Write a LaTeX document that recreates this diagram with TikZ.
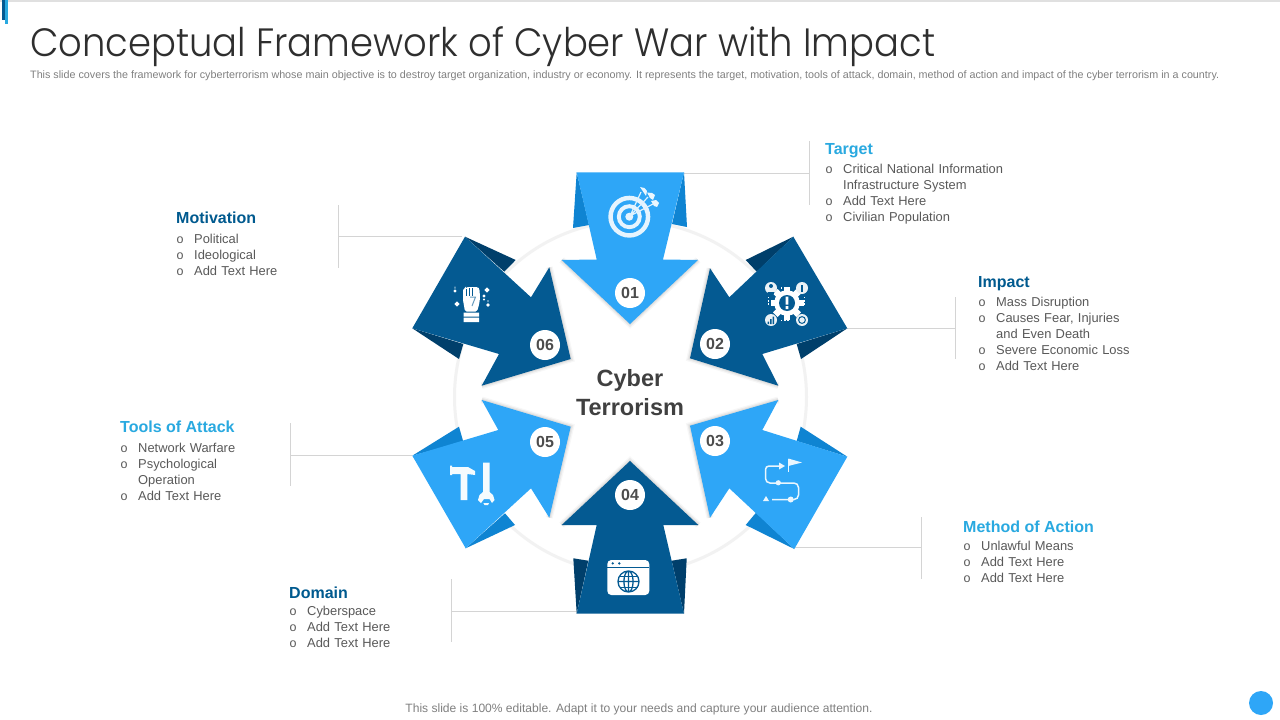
\documentclass[tikz,border=0pt]{standalone}
\usepackage{fontspec}
\setmainfont{Liberation Sans}
\newfontfamily\titlefont{Poppins Light}
\definecolor{lightb}{HTML}{2EA6F7}
\definecolor{darkb}{HTML}{045A92}
\definecolor{lightf}{HTML}{0F84D2}
\definecolor{darkf}{HTML}{003F6B}
\definecolor{headl}{HTML}{29A9E0}
\definecolor{headd}{HTML}{005A8F}
\definecolor{bodyc}{HTML}{595959}
\newcommand\bl[1]{\makebox[18pt][l]{\hspace{0.5pt}\fontsize{12.5}{16}\selectfont o}#1\par}
\newcommand\cn[1]{\hspace{18pt}#1\par}
\tikzset{
  x=1pt,y=-1pt,
  headtext/.style={anchor=west,inner sep=0pt,font=\fontsize{16}{16}\selectfont\bfseries},
  listtext/.style={anchor=north west,inner sep=0pt,text width=230pt,text=bodyc,font=\fontsize{12.9}{16}\selectfont,align=left},
  numdisc/.style={circle,fill=white,minimum size=30pt,inner sep=0pt,text=black!70,font=\fontsize{16}{16}\selectfont\bfseries},
  leader/.style={draw=black!17,line width=0.8pt},
  edgeglow/.style={draw=black,line join=miter,miter limit=20},
  iconw/.style={fill=white,draw=none},
}
\newcommand\glow[1]{%
  \draw[edgeglow,opacity=.03,line width=7pt] #1;
  \draw[edgeglow,opacity=.05,line width=4.5pt] #1;
  \draw[edgeglow,opacity=.06,line width=2pt] #1;
}
\begin{document}
\begin{tikzpicture}
\useasboundingbox (0,0) rectangle (1280,720);
\fill[white] (0,0) rectangle (1280,720);
% top rule and accent
\fill[black!12] (0,0) rectangle (1280,1.6);
\fill[darkb] (2,0) rectangle (5,20);
\fill[headl] (5,0) rectangle (8,24);
% title
\node[anchor=base west,inner sep=0pt,text=black!82,font=\fontsize{39.5}{40}\titlefont] (title) at (30,56) {\scalebox{.935}[1]{Conceptual Framework of Cyber War with Impact}};
\node[anchor=base west,inner sep=0pt,text=black!50,font=\fontsize{10.75}{10}\selectfont] (sub) at (30,78.5) {This slide covers the framework for cyberterrorism whose main objective is to destroy target organization, industry or economy. It represents the target, motivation, tools of attack, domain, method of action and impact of the cyber terrorism in a country.};
\node[anchor=base,inner sep=0pt,text=black!50,font=\fontsize{12.06}{12}\selectfont] (foot) at (639,712.5) {This slide is 100\% editable. Adapt it to your needs and capture your audience attention.};
\node[circle,fill=lightb,minimum size=24pt,inner sep=0pt] (dot) at (1261,703) {};
% ring
\draw[black!5,line width=3pt] (630.5,397) circle (176);
% anchor points of leaders
\coordinate (c1) at (684,173);
\coordinate (c2) at (847.3,328.3);
\coordinate (c3) at (794.3,547.5);
\coordinate (c4) at (576.7,611);
\coordinate (c5) at (412.3,455);
\coordinate (c6) at (462,236.5);
\coordinate (t1) at (809,173);
\coordinate (t1a) at (809,141);
\coordinate (t1b) at (809,205);
\coordinate (t2) at (955,328.3);
\coordinate (t2a) at (955,297);
\coordinate (t2b) at (955,359);
\coordinate (t3) at (921,547.5);
\coordinate (t3a) at (921,517);
\coordinate (t3b) at (921,579);
\coordinate (t4) at (451.5,611);
\coordinate (t4a) at (451.5,579);
\coordinate (t4b) at (451.5,642);
\coordinate (t5) at (290,455);
\coordinate (t5a) at (290,423);
\coordinate (t5b) at (290,486);
\coordinate (t6) at (338,236.5);
\coordinate (t6a) at (338,205);
\coordinate (t6b) at (338,268);
\foreach \i in {1,...,6}{
  \draw[leader] (c\i) -- (t\i);
  \draw[leader] (t\i a) -- (t\i b);
}
% folds
\fill[lightf] (576.7,172.3) -- (573,228) -- (589,225) -- cycle;
\fill[lightf] (684,172.3) -- (687,227) -- (672,224) -- cycle;
\fill[darkf] (793.3,236.7) -- (745.7,260) -- (756.7,271.7) -- cycle;
\fill[darkf] (847.3,328.3) -- (796.7,344) -- (801,359) -- cycle;
\fill[lightf] (847.3,456.7) -- (800.7,426.7) -- (796.7,441) -- cycle;
\fill[lightf] (794.3,549) -- (745.7,525) -- (756,512.7) -- cycle;
\fill[darkf] (576.7,613.7) -- (573.3,558.3) -- (588.3,560.7) -- cycle;
\fill[darkf] (684,613.7) -- (686.7,558.3) -- (671.7,560.7) -- cycle;
\fill[lightf] (412.3,455.7) -- (459,426.7) -- (463.3,441.7) -- cycle;
\fill[lightf] (465.7,548.3) -- (515,525) -- (505,513.3) -- cycle;
\fill[darkf] (465,236.7) -- (515.7,260) -- (504.3,271.7) -- cycle;
\fill[darkf] (412.3,328.3) -- (463.3,344) -- (459,359) -- cycle;
% edge shading towards the centre
\glow{(561.7,260) -- (630,324) -- (698,260)}
\glow{(710,268.3) -- (690,358.3) -- (778.3,385.7)}
\glow{(778.3,400) -- (690,425.7) -- (710,517.7)}
\glow{(561.7,525) -- (630,461) -- (698.3,525)}
\glow{(481.7,400) -- (570.7,426.7) -- (549.3,517.7)}
\glow{(549.3,267.3) -- (570.7,359) -- (481.7,385.7)}
% arrows
\fill[lightb] (576.7,172.3) -- (684,172.3) -- (663,259.5) -- (698,260) -- (630,324) -- (561.7,260) -- (596.7,259.5) -- cycle;
\fill[darkb] (793.3,236.7) -- (847.3,328.3) -- (762.3,354) -- (778.3,385.7) -- (690,358.3) -- (710,268.3) -- (729.3,297.3) -- cycle;
\fill[lightb] (847.3,456.7) -- (794.3,549) -- (729.3,488.3) -- (710,517.7) -- (690,425.7) -- (778.3,400) -- (762.3,430) -- cycle;
\fill[darkb] (576.7,613.7) -- (684,613.7) -- (663.3,525) -- (698.3,525) -- (630,461) -- (561.7,525) -- (596.7,525) -- cycle;
\fill[lightb] (412.3,455.7) -- (465.7,548.3) -- (531,488.3) -- (549.3,517.7) -- (570.7,426.7) -- (481.7,400) -- (498.3,430) -- cycle;
\fill[darkb] (465,236.7) -- (412.3,328.3) -- (499,354) -- (481.7,385.7) -- (570.7,359) -- (549.3,267.3) -- (531,297.3) -- cycle;
% number discs
\node[numdisc] (n1) at (630,293) {01};
\node[numdisc] (n2) at (715,344) {02};
\node[numdisc] (n3) at (715,441) {03};
\node[numdisc] (n4) at (630,495) {04};
\node[numdisc] (n5) at (545,442) {05};
\node[numdisc] (n6) at (545,345) {06};
% centre text
\node[inner sep=0pt,align=center,text=black!75,font=\fontsize{23.5}{29}\selectfont\bfseries] (centre) at (630,393) {Cyber\\Terrorism};
% icon 01 target
\begin{scope}[even odd rule]
\fill[white!88!lightb] (629.3,216.7) circle (21) (629.3,216.7) circle (16.5);
\fill[white!88!lightb] (629.3,216.7) circle (12.5) (629.3,216.7) circle (8.5);
\fill[white!88!lightb] (629.3,216.7) circle (4);
\end{scope}
\draw[white!85!lightb,line width=1.2pt] (630,216) -- (641,192) (630,216) -- (648,197) (630,216) -- (653,204);
\fill[white!90!lightb] (644,193) -- (640,187) -- (644.5,188) -- (647,191) -- (646,196) -- cycle;
\fill[white!90!lightb] (650,198) -- (647,192.5) -- (652,193) -- (655,195) -- (653,200) -- cycle;
\fill[white!90!lightb] (654,206) -- (651,201) -- (656,200) -- (659,203) -- (657,207) -- cycle;
% icon 02 gear
\foreach \a in {0,45,...,315}{
  \fill[white,rotate around={\a:(787,303)}] (783.8,286.5) rectangle (790.2,293);
}
\fill[white] (787,303) circle (12.8);
\fill[darkb] (787,303) circle (8);
\fill[white] (785.7,296.5) rectangle (788.3,304.5) (785.7,306) rectangle (788.3,309);
\foreach \p/\q in {771/288,802/288,771/320,802/320}{ \fill[white!92!darkb] (\p,\q) circle (6); }
\fill[darkb] (771,286) circle (2) (767.5,292) arc (180:0:3.5) -- cycle;
\fill[darkb] (801,284.5) rectangle (803,291.5);
\fill[darkb] (767.5,321.5) rectangle (769,324) (770,319) rectangle (771.5,324) (772.5,316.5) rectangle (774,324);
\draw[darkb,line width=1pt] (802,320) circle (3.4);
\foreach \s in {0,3.2,6.4}{
  \fill[white] (781+\s,287.4) rectangle (782.4+\s,288.8);
  \fill[white] (781+\s,320) rectangle (782.4+\s,321.4);
  \fill[white] (768,297+\s) rectangle (769.4,298.4+\s);
  \fill[white] (804,297+\s) rectangle (805.4,298.4+\s);
}
% icon 03 route
\draw[white!90!lightb,line width=1.5pt] (780,466) -- (769,466) arc (270:180:3.5) -- (765.5,478.5) arc (180:90:4.5) -- (794,483) arc (-90:0:4.5) -- (798.5,495) arc (0:90:4.5) -- (772,499.5);
\fill[white!90!lightb] (779,462.5) -- (785,466) -- (779,469.5) -- cycle;
\fill[white!90!lightb] (766,496) -- (769,501) -- (763,501) -- cycle;
\fill[white!90!lightb] (778.3,482.8) circle (2.6) (790.7,499.5) circle (3);
\draw[white!90!lightb,line width=1pt] (788.3,459) -- (788.3,472);
\fill[white!90!lightb] (788.3,458.5) -- (802,462.5) -- (796,464) -- (788.3,466) -- cycle;
% icon 04 browser
\fill[white,rounded corners=4pt] (607.3,560) rectangle (649.3,595);
\draw[darkb,line width=.5pt] (607.3,567) -- (649.3,567);
\fill[darkb] (612.7,563.4) circle (1.3) (619.3,563.4) circle (1.3);
\draw[darkb,line width=1.3pt] (628.5,581.5) circle (10.5) (628.5,581.5) ellipse (4.6 and 10.5) (618,581.5) -- (639,581.5) (628.5,571) -- (628.5,592);
\draw[darkb,line width=1pt] (619.5,576) -- (637.5,576) (619.5,587) -- (637.5,587);
% icon 05 tools
\fill[white!95!lightb] (450,465.5) -- (452,465.5) -- (452,467) -- (468,467) -- (475,471) -- (475,475) -- (467.3,474) -- (467.3,500) -- (460.7,500) -- (460.7,474) -- (452,474) -- (452,475) -- (450,475) -- cycle;
\fill[white!95!lightb] (483,462.5) -- (489.5,462.5) -- (489.5,492) -- (493,495) -- (494.5,500) -- (492,503) -- (489.5,499) -- (484,499) -- (481,503) -- (478,500) -- (479.5,495) -- (483,492) -- cycle;
\fill[white!95!lightb] (483.3,503) -- (489,503) -- (488,505) -- (484.5,505) -- cycle;
% icon 06 fist
\fill[white] (463.7,312.5) rectangle (479,316.5) (463.7,317.5) rectangle (479,322);
\fill[white,rounded corners=1.5pt] (465,311.5) -- (463,300) -- (463,292) -- (463.5,288) -- (466,288) -- (466,287) -- (478,287) -- (479.5,289) -- (480,298) -- (479,305) -- (477,311.5) -- cycle;
\draw[darkb,line width=.7pt] (466.5,289) -- (466.5,296) (469.5,288) -- (469.5,296) (472.5,288) -- (472.5,296);
\draw[darkb!60!white,line width=1pt] (470,297) -- (475.5,297) -- (472,306);
\foreach \p/\q/\r in {455/291/1.6,487/290/2.6,457/304/2.6,484/296/1.6,488/305/1.8,484/299.5/1.2}{
  \fill[white] (\p-\r,\q) -- (\p,\q-\r) -- (\p+\r,\q) -- (\p,\q+\r) -- cycle;
}
\fill[white] (454.6,286.5) rectangle (455.4,288.5) (487.6,300) rectangle (488.4,302);
% Target
\node[headtext,text=headl] (h1) at (825,150.3) {Target};
\node[listtext] (l1) at (825,164) {\bl{Critical National Information}\cn{Infrastructure System}\bl{Add Text Here}\bl{Civilian Population}};
% Impact
\node[headtext,text=headd] (h2) at (978,283.3) {Impact};
\node[listtext] (l2) at (978,296.7) {\bl{Mass Disruption}\bl{Causes Fear, Injuries}\cn{and Even Death}\bl{Severe Economic Loss}\bl{Add Text Here}};
% Method
\node[headtext,text=headl] (h3) at (963,526.5) {Method of Action};
\node[listtext] (l3) at (963,540.7) {\bl{Unlawful Means}\bl{Add Text Here}\bl{Add Text Here}};
% Domain
\node[headtext,text=headd] (h4) at (289,592.5) {Domain};
\node[listtext] (l4) at (289,606) {\bl{Cyberspace}\bl{Add Text Here}\bl{Add Text Here}};
% Tools
\node[headtext,text=headl] (h5) at (120,427) {Tools of Attack};
\node[listtext] (l5) at (120,443) {\bl{Network Warfare}\bl{Psychological}\cn{Operation}\bl{Add Text Here}};
% Motivation
\node[headtext,text=headd] (h6) at (176,217.5) {Motivation};
\node[listtext] (l6) at (176,234) {\bl{Political}\bl{Ideological}\bl{Add Text Here}};
\end{tikzpicture}
\end{document}
